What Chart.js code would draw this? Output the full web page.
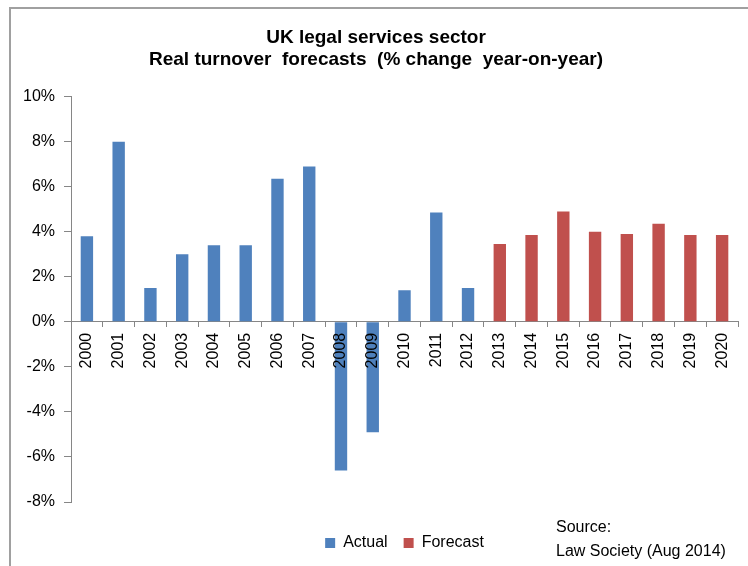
<!DOCTYPE html>
<html>
<head>
<meta charset="utf-8">
<script src="https://cdn.jsdelivr.net/npm/chart.js@4/dist/chart.umd.min.js"></script>
<style>
  html, body { margin: 0; padding: 0; background: #fff; }
  #wrap { position: relative; width: 748px; height: 566px; overflow: hidden; }
  #frame {
    position: absolute; left: 9px; top: 7px; width: 800px; height: 600px;
    border-top: 2px solid #a0a0a0; border-left: 2px solid #a0a0a0;
    pointer-events: none;
  }
  #source {
    position: absolute; left: 556px; top: 515px;
    font: 16px "Liberation Sans", Arial, sans-serif; line-height: 24px; color: #000;
  }
</style>
</head>
<body>
<div id="wrap">
  <canvas id="turnover-chart" width="748" height="566"></canvas>
  <div id="frame"></div>
  <div id="source">Source:<br>Law Society (Aug 2014)</div>
</div>
<script>
const years = ["2000", "2001", "2002", "2003", "2004", "2005", "2006", "2007", "2008", "2009", "2010",
  "2011", "2012", "2013", "2014", "2015", "2016", "2017", "2018", "2019", "2020"];

// % change year-on-year
const actual = [3.8, 8.0, 1.5, 3.0, 3.4, 3.4, 6.35, 6.9, -6.6, -4.9, 1.4, 4.85, 1.5];
const forecast = [3.45, 3.85, 4.9, 4.0, 3.9, 4.35, 3.85, 3.85];

const axisGrey = "#868686";
const font = { family: "'Liberation Sans', Arial, sans-serif", size: 16 };

// pad both series out to the full run of years
const actualSeries = years.map((y, i) => (i < actual.length ? actual[i] : null));
const forecastSeries = years.map((y, i) => (i >= actual.length ? forecast[i - actual.length] : null));

new Chart(document.getElementById("turnover-chart"), {
  type: "bar",
  data: {
    labels: years,
    datasets: [
      {
        label: "Actual",
        data: actualSeries,
        backgroundColor: "#4F81BD",
      },
      {
        label: "Forecast",
        data: forecastSeries,
        backgroundColor: "#C0504D",
      },
    ],
  },
  options: {
    responsive: false,
    animation: false,
    devicePixelRatio: 1,
    datasets: {
      bar: { grouped: false, categoryPercentage: 1, barPercentage: 0.39 },
    },
    layout: { padding: { top: 9, left: 14, right: 10, bottom: 5 } },
    scales: {
      x: {
        position: { y: 0 },
        grid: { drawOnChartArea: false, tickLength: 5, color: axisGrey },
        border: { color: axisGrey, width: 1 },
        // z: 1 so the year labels sit on top of the negative bars
        ticks: { z: 1, minRotation: 90, maxRotation: 90, padding: 6, color: "#000", font: font, autoSkip: false },
      },
      y: {
        min: -8,
        max: 10,
        grid: { drawOnChartArea: false, tickLength: 7, color: axisGrey },
        border: { color: axisGrey, width: 1 },
        ticks: {
          stepSize: 2,
          padding: 9,
          color: "#000",
          font: font,
          callback: (v) => v + "%",
        },
      },
    },
    plugins: {
      title: {
        display: true,
        text: ["UK legal services sector", "Real turnover  forecasts  (% change  year-on-year)"],
        color: "#000",
        font: { family: font.family, size: 19, weight: "bold" },
        padding: { top: 17, bottom: 25 },
      },
      legend: {
        position: "bottom",
        fullSize: false, // centre under the plot area rather than the whole canvas
        title: { display: true, text: "", font: { size: 10, lineHeight: 1 }, padding: { top: 7, bottom: 0 } },
        labels: { boxWidth: 10, boxHeight: 10, padding: 16, color: "#000", font: font },
      },
      tooltip: { enabled: false },
    },
  },
});
</script>
</body>
</html>
